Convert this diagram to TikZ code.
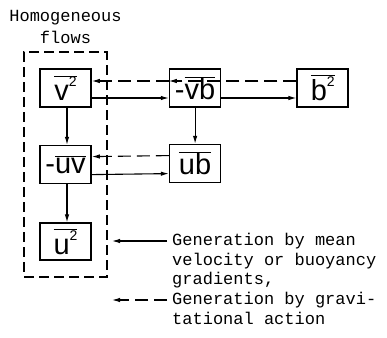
\documentclass[tikz,border=0pt]{standalone}
\usepackage{fontspec}
\setmonofont{Liberation Mono}
\newfontfamily\boxfont{Liberation Sans}
\usetikzlibrary{positioning,arrows.meta,fit}
\newcommand{\ovl}[1]{$\overline{\mbox{#1}}$}
\newcommand{\sqr}{\raisebox{0.9ex}{\fontsize{14}{14}\selectfont 2}}
\tikzset{
  >={Latex[length=8pt,width=4.5pt]},
  % --- nodes
  corr/.style  = {draw, line width=1.6pt, minimum width=51pt, minimum height=38pt,
                  inner sep=0pt, font=\boxfont\fontsize{29}{29}\selectfont},
  txt/.style   = {font=\ttfamily\fontsize{17}{19.7}\selectfont, inner sep=0pt},
  grp/.style   = {draw, line width=1.6pt, dash pattern=on 10pt off 5pt},
  % --- edges
  e/.style     = {->, line width=1.1pt},
  ed/.style    = {e, dash pattern=on 13pt off 6pt},
}
\begin{document}
\begin{tikzpicture}[x=1pt,y=-1pt]
  \useasboundingbox (0,0) rectangle (387,337);
  \node[corr] (v2) at (65.5,88) {\ovl{v\sqr}};
  \node[corr, right=77pt of v2] (vb) {-\ovl{vb}};
  \node[corr, right=75pt of vb] (b2) {\ovl{b\sqr}};
  \node[corr, below=37pt of v2] (uv) {-\ovl{uv}};
  \node[corr, below=36pt of vb] (ub) {\ovl{ub}};
  \node[corr, below=38pt of uv, minimum height=37pt] (u2) {\ovl{u\sqr}};

  \node[grp, fit=(v2)(uv)(u2), inner xsep=15pt, inner ysep=16pt] (homog) {};
  \node[txt, align=center, font=\ttfamily\fontsize{17}{21.5}\selectfont,
        above=8pt of homog] (title) {Homogeneous\\flows};

  % gravitational (dashed) and gradient (solid) links
  \draw[ed] ([yshift=7pt]vb.west) -- ([yshift=7pt]v2.east);
  \draw[e]  ([yshift=-10pt]v2.east) -- ([yshift=-10pt]vb.west);
  \draw[ed] ([yshift=7pt]b2.west) -- ([yshift=7pt]vb.west);
  \draw[e]  ([yshift=-10pt]vb.east) -- ([yshift=-10pt]b2.west);
  \draw[ed] ([yshift=8pt]ub.west) -- ([yshift=8pt]uv.east);
  \draw[e]  ([yshift=-10pt]uv.east) -- ([yshift=-10pt]ub.west);
  \draw[e]  ([xshift=1.5pt]v2.south) -- ([xshift=1.5pt]uv.north);
  \draw[e]  ([xshift=1.5pt]uv.south) -- ([xshift=1.5pt]u2.north);
  \draw[e]  (vb.south) -- (ub.north);

  % key
  \coordinate (k1) at (167,241);
  \coordinate (k2) at (167,300);
  \draw[e]  (k1) -- ++(-55pt,0);
  \draw[ed] (k2) -- ++(-55pt,0);
  \node[txt, align=left, anchor=north west] (gen1) at (172,233)
    {Generation by mean\\velocity or buoyancy\\gradients,};
  \node[txt, align=left, anchor=north west] (gen2) at (172,292)
    {Generation by gravi-\\tational action};
\end{tikzpicture}
\end{document}
